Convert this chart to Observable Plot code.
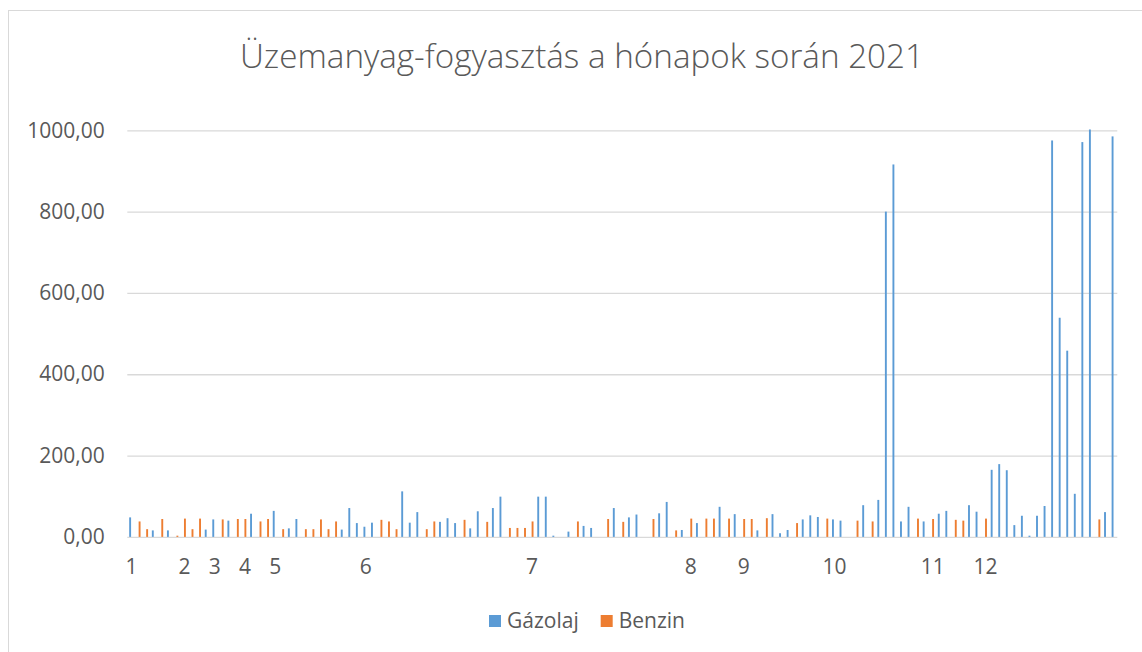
<!DOCTYPE html>
<html>
<head>
<meta charset="utf-8">
<script src="https://cdn.jsdelivr.net/npm/d3@7"></script>
<script src="https://cdn.jsdelivr.net/npm/@observablehq/plot@0.6"></script>
<style>
  html, body { margin: 0; padding: 0; background: #fff; }
  #frame { position: relative; width: 1142px; height: 652px; overflow: hidden; font-family: "Open Sans", sans-serif; }
  #border { position: absolute; left: 8px; top: 10px; width: 1200px; height: 700px; border: 1px solid #D9D9D9; }
  #title { position: absolute; left: 0; top: 0; }
  #plot { position: absolute; left: 0; top: 100px; }
  #legend { position: absolute; left: 0; top: 590px; }
</style>
</head>
<body>
<div id="frame">
  <div id="border"></div>
  <svg id="title" width="1142" height="100"></svg>
  <div id="plot"></div>
  <svg id="legend" width="1142" height="62"></svg>
</div>
<script>
// ---- data (one row per category slot on the Excel category axis) ----
const gazolaj = [
  48, 0, 0, 16, 0, 16, 0, 0, 0, 0,
  18, 43, 0, 40, 0, 0, 57, 0, 0, 64,
  0, 21, 44, 0, 0, 0, 0, 0, 18, 71,
  34, 25, 35, 0, 0, 0, 112, 35, 61, 0,
  0, 37, 46, 34, 0, 21, 63, 0, 71, 99,
  0, 0, 0, 0, 99, 99, 3, 0, 13, 0,
  27, 22, 0, 0, 71, 0, 48, 55, 0, 0,
  58, 86, 0, 17, 0, 34, 0, 0, 74, 0,
  56, 0, 0, 16, 0, 56, 9, 17, 0, 43,
  53, 49, 0, 43, 40, 0, 0, 78, 0, 91,
  800, 916, 38, 74, 0, 38, 0, 57, 64, 0,
  0, 78, 62, 0, 165, 179, 164, 29, 52, 3,
  52, 76, 975, 539, 458, 106, 971, 1002, 0, 61,
  985
];
const benzin = [
  0, 38, 19, 0, 44, 0, 3, 45, 19, 45,
  0, 0, 43, 0, 44, 44, 0, 38, 44, 0,
  19, 0, 0, 19, 19, 43, 19, 38, 0, 0,
  0, 0, 0, 42, 38, 19, 0, 0, 0, 19,
  38, 0, 0, 0, 42, 0, 0, 37, 0, 0,
  22, 22, 22, 38, 0, 0, 0, 0, 0, 38,
  0, 0, 0, 44, 0, 37, 0, 0, 0, 44,
  0, 0, 16, 0, 45, 0, 45, 45, 0, 45,
  0, 44, 44, 0, 46, 0, 0, 0, 34, 0,
  0, 0, 45, 0, 0, 0, 40, 0, 38, 0,
  0, 0, 0, 0, 45, 0, 44, 0, 0, 42,
  40, 0, 0, 45, 0, 0, 0, 0, 0, 0,
  0, 0, 0, 0, 0, 0, 0, 0, 43, 0,
  0
];
// category slots that carry a month label, and those labels
const labelSlots = [0, 7, 11, 15, 19, 31, 53, 74, 81, 93, 106, 113];
const monthLabels = ["1", "2", "3", "4", "5", "6", "7", "8", "9", "10", "11", "12"];
const yTicks = [0, 200, 400, 600, 800, 1000];
const seriesNames = ["Gázolaj", "Benzin"];
const seriesColors = ["#5B9BD5", "#ED7D31"];

const slots = d3.range(gazolaj.length);
const rows = slots.map(i => ({slot: i, g: gazolaj[i], b: benzin[i]}));
const labelOf = new Map(labelSlots.map((s, k) => [s, monthLabels[k]]));

const textColor = "#595959";
const gridColor = "#D9D9D9";
const fontSize = 21;

// plot geometry
const W = 1142, H = 490;
const mL = 127.3, mR = W - 1117.3, mT = 30.3, mB = H - 436.9;
const band = (W - mL - mR) / slots.length;
const barW = 1.9;
const inset = (band - barW) / 2;

const chart = Plot.plot({
  width: W,
  height: H,
  marginLeft: mL,
  marginRight: mR,
  marginTop: mT,
  marginBottom: mB,
  style: {fontFamily: "'Open Sans', sans-serif", fontSize: fontSize + "px", color: textColor, background: "transparent", overflow: "visible"},
  x: {type: "band", domain: slots, padding: 0, round: false, axis: null},
  y: {domain: [0, 1000], axis: null},
  marks: [
    Plot.gridY(yTicks.filter(d => d > 0), {stroke: gridColor, strokeOpacity: 1, strokeWidth: 1.3}),
    Plot.ruleY([0], {stroke: gridColor, strokeWidth: 1.3}),
    Plot.barY(rows, {x: "slot", y: "g", fill: seriesColors[0], insetLeft: inset, insetRight: inset, dx: -barW / 2}),
    Plot.barY(rows, {x: "slot", y: "b", fill: seriesColors[1], insetLeft: inset, insetRight: inset, dx: barW / 2}),
    Plot.axisY({ticks: yTicks, tickSize: 0, tickPadding: 23, label: null, tickFormat: d => d.toFixed(2).replace(".", ","), fill: textColor, fontSize: fontSize}),
    Plot.axisX({ticks: labelSlots, tickSize: 0, tickPadding: 22, label: null, tickFormat: d => labelOf.get(d) ?? "", fill: textColor, fontSize: fontSize})
  ]
});
document.getElementById("plot").appendChild(chart);

// title (fit to the reference width)
const tsvg = d3.select("#title");
const t = tsvg.append("text")
  .attr("x", 582).attr("y", 68)
  .attr("text-anchor", "middle")
  .attr("fill", textColor)
  .style("font-family", "'Open Sans', sans-serif")
  .style("font-weight", 300)
  .style("font-size", "30px")
  .text("Üzemanyag-fogyasztás a hónapok során 2021");
const tw = t.node().getComputedTextLength();
t.style("font-size", (30 * 684 / tw).toFixed(2) + "px");

// legend
const lsvg = d3.select("#legend");
const cy = 31;
const sq = 12;
let x = 489;
seriesNames.forEach((name, k) => {
  lsvg.append("rect").attr("x", x).attr("y", cy - sq / 2).attr("width", sq).attr("height", sq).attr("fill", seriesColors[k]);
  const tx = lsvg.append("text").attr("x", x + sq + 6).attr("y", cy).attr("dy", "0.35em")
    .attr("fill", textColor).style("font-family", "'Open Sans', sans-serif").style("font-size", fontSize + "px").text(name);
  x = x + sq + 6 + tx.node().getComputedTextLength() + 22;
});
</script>
</body>
</html>
